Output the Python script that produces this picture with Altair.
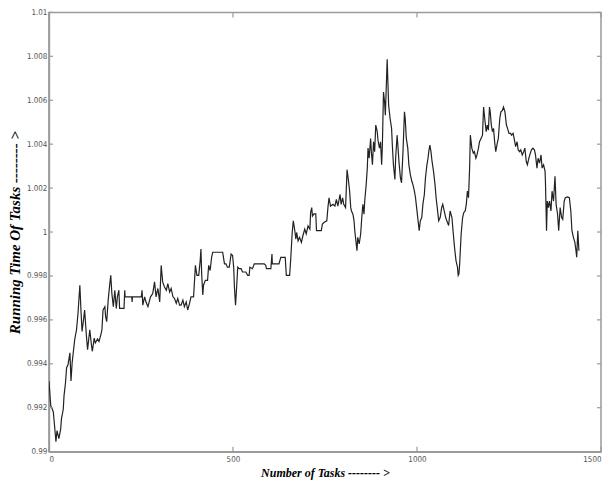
import altair as alt
import pandas as pd

# Number of tasks (x) and running time (y)
tasks = [
    0, 3, 5, 9, 12, 16, 19, 22, 27, 32, 34, 39, 41, 45, 48, 52, 57, 60, 63, 67,
    70, 75, 79, 84, 87, 90, 94, 97, 102, 105, 108, 111, 116, 118, 123, 126, 132, 136, 141, 144,
    147, 152, 154, 157, 161, 165, 168, 171, 175, 179, 183, 186, 190, 192, 204, 206, 207, 225, 226, 227,
    251, 253, 255, 260, 264, 269, 276, 282, 287, 291, 296, 301, 305, 309, 314, 319, 323, 328, 332, 337,
    341, 346, 350, 355, 359, 364, 368, 373, 377, 382, 386, 393, 398, 402, 407, 411, 413, 415, 418, 420,
    425, 431, 434, 438, 442, 445, 472, 477, 481, 485, 490, 495, 499, 502, 504, 507, 510, 513, 517, 522,
    526, 535, 540, 544, 546, 553, 558, 585, 589, 591, 603, 606, 607, 625, 630, 642, 645, 654, 657, 661,
    664, 668, 671, 673, 677, 681, 686, 690, 695, 699, 704, 709, 711, 714, 716, 720, 725, 727, 740, 743,
    747, 755, 758, 761, 765, 772, 777, 781, 785, 791, 794, 798, 801, 806, 810, 813, 817, 820, 822, 826,
    829, 831, 834, 837, 839, 843, 847, 850, 853, 856, 858, 862, 865, 867, 870, 874, 876, 879, 882, 885,
    888, 892, 894, 898, 901, 904, 906, 909, 912, 914, 917, 919, 921, 923, 927, 931, 933, 936, 940, 942,
    946, 948, 951, 955, 958, 962, 966, 968, 971, 975, 978, 982, 986, 989, 993, 996, 1000, 1004, 1006, 1009,
    1013, 1016, 1020, 1023, 1027, 1030, 1032, 1035, 1038, 1041, 1045, 1049, 1052, 1056, 1059, 1063, 1067, 1070, 1074, 1078,
    1081, 1086, 1090, 1095, 1098, 1102, 1106, 1110, 1112, 1114, 1116, 1120, 1124, 1127, 1131, 1134, 1137, 1140, 1143, 1145,
    1149, 1153, 1156, 1160, 1163, 1167, 1170, 1174, 1178, 1181, 1185, 1188, 1191, 1194, 1197, 1199, 1202, 1205, 1208, 1211,
    1214, 1218, 1221, 1225, 1228, 1232, 1235, 1239, 1243, 1246, 1250, 1254, 1257, 1261, 1264, 1268, 1272, 1275, 1279, 1282,
    1286, 1290, 1293, 1297, 1300, 1304, 1308, 1311, 1315, 1319, 1322, 1326, 1329, 1333, 1337, 1340, 1344, 1348, 1349, 1352,
    1354, 1357, 1360, 1364, 1367, 1371, 1375, 1378, 1382, 1385, 1389, 1393, 1396, 1400, 1403, 1409, 1414, 1418, 1421, 1425,
    1429, 1432, 1434, 1437, 1440,
]

times = [
    0.99322, 0.99254, 0.99209, 0.99194, 0.99180, 0.99104, 0.99045, 0.99096, 0.99059, 0.99104,
    0.99149, 0.99194, 0.99254, 0.99314, 0.99382, 0.99397, 0.99450, 0.99322, 0.99404, 0.99464,
    0.99510, 0.99555, 0.99630, 0.99758, 0.99645, 0.99547, 0.99600, 0.99645, 0.99524, 0.99464,
    0.99510, 0.99555, 0.99479, 0.99457, 0.99517, 0.99495, 0.99513, 0.99502, 0.99532, 0.99555,
    0.99645, 0.99660, 0.99615, 0.99592, 0.99690, 0.99758, 0.99803, 0.99720, 0.99660, 0.99735,
    0.99652, 0.99705, 0.99735, 0.99652, 0.99652, 0.99735, 0.99705, 0.99705, 0.99682, 0.99705,
    0.99705, 0.99735, 0.99667, 0.99705, 0.99680, 0.99660, 0.99705, 0.99720, 0.99773, 0.99705,
    0.99743, 0.99682, 0.99848, 0.99773, 0.99750, 0.99735, 0.99765, 0.99727, 0.99743, 0.99705,
    0.99698, 0.99675, 0.99698, 0.99667, 0.99667, 0.99690, 0.99660, 0.99682, 0.99645, 0.99675,
    0.99705, 0.99705, 0.99848, 0.99803, 0.99803, 0.99870, 0.99923, 0.99810, 0.99713, 0.99758,
    0.99780, 0.99780, 0.99848, 0.99825, 0.99885, 0.99908, 0.99908, 0.99855, 0.99855, 0.99840,
    0.99840, 0.99900, 0.99893, 0.99840, 0.99750, 0.99667, 0.99750, 0.99840, 0.99833, 0.99833,
    0.99818, 0.99818, 0.99803, 0.99803, 0.99840, 0.99833, 0.99855, 0.99855, 0.99848, 0.99833,
    0.99833, 0.99900, 0.99855, 0.99855, 0.99885, 0.99885, 0.99803, 0.99803, 0.99878, 0.99998,
    1.00051, 1.00006, 0.99968, 0.99998, 0.99960, 0.99976, 0.99953, 0.99983, 1.00013, 0.99991,
    1.00028, 1.00013, 1.00088, 1.00111, 1.00073, 1.00083, 1.00083, 1.00006, 1.00006, 1.00036,
    1.00043, 1.00051, 1.00111, 1.00156, 1.00118, 1.00126, 1.00118, 1.00149, 1.00118, 1.00171,
    1.00126, 1.00156, 1.00126, 1.00111, 1.00284, 1.00246, 1.00186, 1.00111, 1.00096, 1.00081,
    1.00051, 1.00006, 0.99960, 0.99915, 0.99976, 0.99946, 0.99991, 1.00066, 1.00126, 1.00081,
    1.00141, 1.00216, 1.00291, 1.00382, 1.00336, 1.00426, 1.00366, 1.00306, 1.00411, 1.00366,
    1.00487, 1.00457, 1.00419, 1.00382, 1.00411, 1.00306, 1.00396, 1.00637, 1.00592, 1.00532,
    1.00682, 1.00787, 1.00682, 1.00577, 1.00517, 1.00472, 1.00396, 1.00306, 1.00239, 1.00336,
    1.00441, 1.00396, 1.00321, 1.00246, 1.00224, 1.00366, 1.00547, 1.00517, 1.00426, 1.00382,
    1.00306, 1.00261, 1.00231, 1.00216, 1.00186, 1.00156, 1.00096, 1.00036, 1.00006, 1.00051,
    1.00066, 1.00126, 1.00171, 1.00246, 1.00306, 1.00336, 1.00366, 1.00396, 1.00366, 1.00321,
    1.00276, 1.00216, 1.00156, 1.00096, 1.00051, 1.00066, 1.00111, 1.00126, 1.00096, 1.00066,
    1.00051, 1.00030, 1.00096, 1.00066, 1.00006, 0.99930, 0.99870, 0.99840, 0.99803, 0.99810,
    0.99855, 0.99991, 1.00066, 1.00088, 1.00096, 1.00126, 1.00186, 1.00156, 1.00291, 1.00441,
    1.00382, 1.00359, 1.00366, 1.00336, 1.00351, 1.00382, 1.00411, 1.00426, 1.00441, 1.00569,
    1.00502, 1.00457, 1.00487, 1.00464, 1.00569, 1.00547, 1.00487, 1.00457, 1.00472, 1.00411,
    1.00366, 1.00404, 1.00426, 1.00517, 1.00547, 1.00554, 1.00569, 1.00547, 1.00487, 1.00472,
    1.00449, 1.00449, 1.00441, 1.00449, 1.00426, 1.00389, 1.00411, 1.00374, 1.00366, 1.00374,
    1.00351, 1.00366, 1.00382, 1.00321, 1.00306, 1.00336, 1.00359, 1.00374, 1.00382, 1.00374,
    1.00351, 1.00291, 1.00336, 1.00314, 1.00351, 1.00291, 1.00306, 1.00276, 1.00231, 1.00006,
    1.00141, 1.00111, 1.00141, 1.00096, 1.00186, 1.00141, 1.00254, 1.00126, 1.00081, 1.00006,
    1.00111, 1.00066, 1.00058, 1.00141, 1.00156, 1.00160, 1.00156, 1.00096, 1.00006, 0.99976,
    0.99953, 0.99915, 0.99885, 1.00006, 0.99915,
]

y_ticks = [0.99, 0.992, 0.994, 0.996, 0.998, 1.0, 1.002, 1.004, 1.006, 1.008, 1.01]
x_ticks = [0, 500, 1000, 1500]

X_TITLE = "Number of Tasks -------- >"
Y_TITLE = "Running Time Of Tasks -------- >"

W, H = 553, 440
FRAME = "#9a9a9a"
LABEL_FONT = "DejaVu Sans Condensed, Liberation Sans Narrow, Liberation Sans, Arial"
TITLE_FONT = "Liberation Serif, Times New Roman"

df = pd.DataFrame({"tasks": tasks, "time": times})
yt = pd.DataFrame({"v": y_ticks})
xt = pd.DataFrame({"v": x_ticks})

x_scale = alt.Scale(domain=[0, 1500], nice=False, zero=False)
y_scale = alt.Scale(domain=[0.99, 1.01], nice=False, zero=False)

x_axis = alt.Axis(values=x_ticks, format="d", ticks=False, title=X_TITLE,
                  titleFontSize=12, labelPadding=4, titlePadding=4)
y_axis = alt.Axis(values=y_ticks, labelExpr="format(datum.value, '~g')",
                  ticks=False, title=Y_TITLE, titleFontSize=15,
                  labelPadding=2, titlePadding=4)

line = alt.Chart(df).mark_line(color="#222222", strokeWidth=1.2, clip=True).encode(
    x=alt.X("tasks:Q", scale=x_scale, axis=x_axis),
    y=alt.Y("time:Q", scale=y_scale, axis=y_axis),
)

left_ticks = alt.Chart(yt).mark_rule(color=FRAME, strokeWidth=1.2).encode(
    y=alt.Y("v:Q", scale=y_scale, axis=y_axis), x=alt.value(0), x2=alt.value(4))
right_ticks = alt.Chart(yt).mark_rule(color=FRAME, strokeWidth=1.2).encode(
    y=alt.Y("v:Q", scale=y_scale, axis=y_axis), x=alt.value(W - 4), x2=alt.value(W))
bottom_ticks = alt.Chart(xt).mark_rule(color=FRAME, strokeWidth=1.2).encode(
    x=alt.X("v:Q", scale=x_scale, axis=x_axis), y=alt.value(H), y2=alt.value(H - 5))
top_ticks = alt.Chart(xt).mark_rule(color=FRAME, strokeWidth=1.2).encode(
    x=alt.X("v:Q", scale=x_scale, axis=x_axis), y=alt.value(0), y2=alt.value(5))

chart = alt.layer(line, left_ticks, right_ticks, bottom_ticks, top_ticks).properties(
    width=W, height=H,
    autosize=alt.AutoSizeParams(type="none"),
    padding={"left": 41, "top": 4, "right": 4, "bottom": 35},
    background="white",
).configure_view(
    stroke=FRAME, strokeWidth=1.5
).configure_axis(
    domain=True, domainColor=FRAME, domainWidth=1.5, grid=False,
    labelFont=LABEL_FONT, labelFontSize=8, labelColor="#555555",
    titleFont=TITLE_FONT, titleFontStyle="italic", titleFontWeight="bold",
    titleColor="#000000",
)

chart.save("out.html", embed_options={"renderer": "svg", "actions": False})
